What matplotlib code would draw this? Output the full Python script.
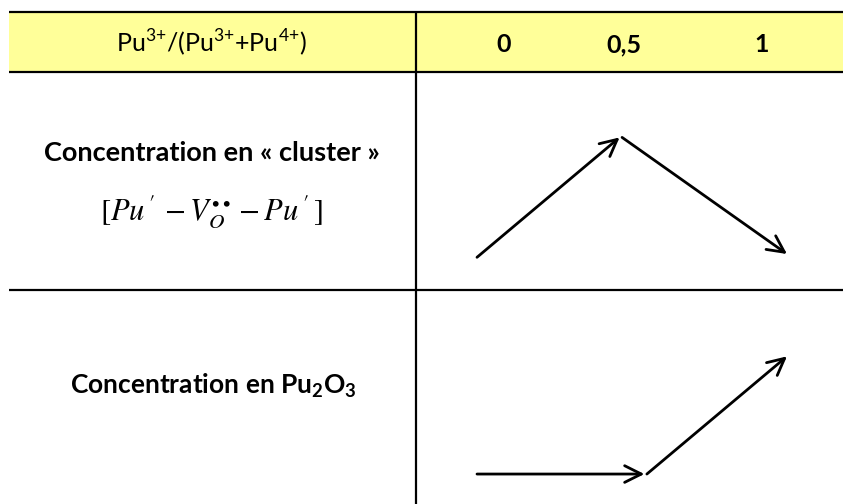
import matplotlib
matplotlib.use('Agg')
import matplotlib.pyplot as plt
from matplotlib.patches import Rectangle

plt.rcParams['font.family'] = ['Lato', 'DejaVu Sans']
plt.rcParams['mathtext.fontset'] = 'custom'
plt.rcParams['mathtext.rm'] = 'Lato'
plt.rcParams['mathtext.bf'] = 'Lato:bold'

# header of the table
ratio_label = r'Pu$^{3{+}}$/(Pu$^{3{+}}$+Pu$^{4{+}}$)'
ratio_ticks = ['0', '0,5', '1']

# row labels
row_labels = ['Concentration en « cluster »', r'Concentration en Pu$_\mathbf{2}$O$_\mathbf{3}$']
cluster_formula = r'$[Pu^{\,\prime}\, - V_O^{\bullet\bullet} - Pu^{\,\prime}\,]$'

# trends (x: position along ratio, y: relative level in cell)
cluster_x = [0.0, 0.46, 1.0]
cluster_y = [0.15, 0.70, 0.165]
pu2o3_x = [0.0, 0.54, 1.0]
pu2o3_y = [0.14, 0.14, 0.69]

W, H = 843, 504
fig = plt.figure(figsize=(W / 100, H / 100), dpi=100)
ax = fig.add_axes([0, 0, 1, 1])
ax.set_xlim(0, W)
ax.set_ylim(H, 0)
ax.axis('off')

# table frame
ax.add_patch(Rectangle((9, 12), W - 9, 60, facecolor='#ffff99', edgecolor='none'))
for y in [12, 72, 290]:
    ax.plot([9, W], [y, y], color='black', lw=1.6, solid_capstyle='butt')
ax.plot([416, 416], [12, H], color='black', lw=1.6, solid_capstyle='butt')

# header texts
ax.text(211, 43, ratio_label, ha='center', va='center', fontsize=18)
for xpos, lab in zip([504, 624, 762], ratio_ticks):
    ax.text(xpos, 45, lab, ha='center', va='center', fontsize=18, fontweight='bold')

# row labels
ax.text(212, 153, row_labels[0], ha='center', va='center', fontsize=19.5, fontweight='bold')
ax.text(212, 212, cluster_formula, ha='center', va='center', fontsize=22,
        math_fontfamily='stix')
ax.text(213, 386, row_labels[1], ha='center', va='center', fontsize=19, fontweight='bold')


def trend(bottom, top, xs, ys):
    # one axes per cell of the right column
    a = fig.add_axes([416 / W, 1 - bottom / H, (W - 416) / W, (bottom - top) / H])
    a.set_xlim((416 - 477) / 310, (W - 477) / 310)
    a.set_ylim(0, 1)
    a.axis('off')
    for i in range(len(xs) - 1):
        a.annotate('', xy=(xs[i + 1], ys[i + 1]), xytext=(xs[i] + (0.008 if i else 0), ys[i]),
                   arrowprops=dict(arrowstyle='->,head_length=0.6,head_width=0.3',
                                   lw=2, color='black', mutation_scale=20,
                                   shrinkA=0, shrinkB=0))


trend(290, 72, cluster_x, cluster_y)
trend(504, 290, pu2o3_x, pu2o3_y)

fig.savefig('out.png', dpi=100)
